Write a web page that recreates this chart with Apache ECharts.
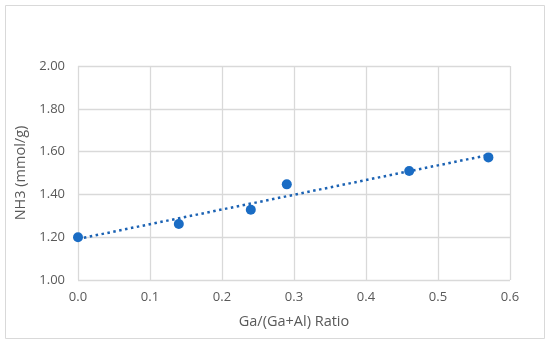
<!DOCTYPE html>
<html><head><meta charset="utf-8">
<script src="https://cdn.jsdelivr.net/npm/echarts@6/dist/echarts.min.js"></script>
<style>html,body{margin:0;padding:0;background:#fff}#c{width:550px;height:345px}</style>
</head><body><div id="c"></div>
<script>
const ratio = [0, 0.14, 0.24, 0.29, 0.46, 0.57];
const nh3 = [1.20, 1.262, 1.328, 1.447, 1.509, 1.573];
const trendX = [0, 0.57];
const trendY = [1.192, 1.584];
const xTicks = ['0.0','0.1','0.2','0.3','0.4','0.5','0.6'];

const chart = echarts.init(document.getElementById('c'));
const font = '"Open Sans", "Liberation Sans", sans-serif';
chart.setOption({
  animation: false,
  backgroundColor: '#fff',
  graphic: [{type:'rect', shape:{x:5.5,y:5.5,width:539,height:333}, style:{fill:'none', stroke:'#d9d9d9', lineWidth:1}}],
  grid: {left:78, right:40, top:66, bottom:65},
  xAxis: {
    type:'value', min:0, max:0.6, interval:0.1,
    name:'Ga/(Ga+Al) Ratio', nameLocation:'middle', nameGap:34,
    nameTextStyle:{color:'#595959', fontSize:14.5, fontFamily:font},
    axisLine:{show:false}, axisTick:{show:false},
    axisLabel:{color:'#595959', fontSize:13, fontFamily:font, margin:11,
      formatter: v => xTicks[Math.round(v*10)]},
    splitLine:{show:true, lineStyle:{color:'#d9d9d9', width:1.3}}
  },
  yAxis: {
    type:'value', min:1.0, max:2.0, interval:0.2,
    name:'NH3 (mmol/g)', nameLocation:'middle', nameGap:43,
    nameTextStyle:{color:'#595959', fontSize:14.5, fontFamily:font},
    axisLine:{show:false}, axisTick:{show:false},
    axisLabel:{color:'#595959', fontSize:13, fontFamily:font, margin:13,
      formatter: v => v.toFixed(2)},
    splitLine:{show:true, lineStyle:{color:'#d9d9d9', width:1.3}}
  },
  series: [
    {type:'line', data: trendX.map((x,i)=>[x,trendY[i]]), symbol:'none',
     lineStyle:{color:'#1b62b3', width:2.5, type:[2.5,3.5]}, z:3},
    {type:'scatter', data: ratio.map((x,i)=>[x,nh3[i]]), symbolSize:10,
     itemStyle:{color:'#1a6cc4', opacity:1}, z:4}
  ]
});
</script></body></html>
